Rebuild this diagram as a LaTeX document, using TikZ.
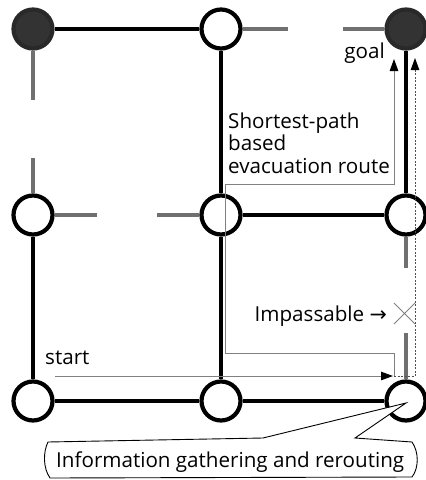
\documentclass[tikz,border=0pt]{standalone}
\usepackage{fontspec}
\setmainfont{Open Sans}
\newfontfamily\symfont{DejaVu Sans}
\usetikzlibrary{arrows.meta}
\definecolor{darkfill}{HTML}{333333}
\definecolor{stubgray}{HTML}{707070}
\definecolor{routegray}{HTML}{808080}
\definecolor{dotgray}{HTML}{505050}
\begin{document}
\begin{tikzpicture}[x=1pt,y=-1pt,
  vert/.style={circle,draw=black,line width=4.2pt,minimum size=39pt,inner sep=0pt,fill=white},
  goalv/.style={vert,fill=darkfill,draw=darkfill!80!black},
  road/.style={line width=4.2pt,black},
  stub/.style={line width=3.8pt,stubgray},
  route/.style={line width=1pt,routegray},
  dotroute/.style={line width=0.9pt,dotgray,dash pattern=on 2pt off 1.5pt},
  tip/.style={-{Triangle[length=12pt,width=8.5pt,color=black]}},
  lbl/.style={font=\fontsize{20.6}{24}\selectfont,inner sep=0pt}]
\useasboundingbox (0,0) rectangle (426,480);

% vertices
\node[goalv] (n11) at (33,29) {};
\node[vert]  (n12) at (221,29) {};
\node[goalv] (n13) at (406,29) {};
\node[vert]  (n21) at (33,215) {};
\node[vert]  (n22) at (221,215) {};
\node[vert]  (n23) at (406,215) {};
\node[vert]  (n31) at (33,401) {};
\node[vert]  (n32) at (221,401) {};
\node[vert]  (n33) at (406,401) {};

% roads
\draw[road] (n11) -- (n12);
\draw[road] (n12) -- (n22);
\draw[road] (n13) -- (n23);
\draw[road] (n22) -- (n23);
\draw[road] (n21) -- (n31);
\draw[road] (n22) -- (n32);
\draw[road] (n31) -- (n32);
\draw[road] (n32) -- (n33);

% stubs
\coordinate (t1) at (33,100);
\coordinate (t2) at (33,158);
\coordinate (t3) at (288,29);
\coordinate (t4) at (343,29);
\coordinate (t5) at (97,215);
\coordinate (t6) at (157,215);
\coordinate (t7) at (406,268);
\coordinate (t8) at (406,333);
\draw[stub] (n11) -- (t1);
\draw[stub] (t2) -- (n21);
\draw[stub] (n12) -- (t3);
\draw[stub] (t4) -- (n13);
\draw[stub] (n21) -- (t5);
\draw[stub] (t6) -- (n22);
\draw[stub] (n23) -- (t7);
\draw[stub] (t8) -- (n33);

% routes
\coordinate (s0) at (55,376);
\coordinate (s1) at (393,376);
\coordinate (r0) at (394,376);
\coordinate (r1) at (394,353);
\coordinate (r2) at (225,353);
\coordinate (r3) at (225,184);
\coordinate (r4) at (394,184);
\coordinate (r5) at (394,59);
\coordinate (d1) at (415,376);
\coordinate (d2) at (415,58);
\draw[route,tip] (r0) -- (r1) -- (r2) -- (r3) -- (r4) -- (r5);
\draw[dotroute,tip] (r0) -- (d1) -- (d2);
\draw[route,tip] (s0) -- (s1);

% impassable mark
\draw[routegray,line width=0.9pt] (394,303) -- (415,324) (394,324) -- (415,303);

% labels
\node[lbl,anchor=base east] (goal) at (385,58) {goal};
\node[lbl,anchor=base west] (sp1) at (228,128) {Shortest-path};
\node[lbl,anchor=base west] (sp2) at (228,150) {based};
\node[lbl,anchor=base west] (sp3) at (228,173) {evacuation route};
\node[lbl,anchor=base east] (imp) at (387,321) {Impassable {\symfont →}};
\node[lbl,anchor=base west] (start) at (45,364) {start};

% callout
\coordinate (ctip) at (406,403);
\draw[line width=0.9pt,fill=white] (48,442) -- (263,438) -- (ctip) -- (355,438) -- (412,442)
  .. controls (419,452) and (419,468) .. (412,477) -- (50,478)
  .. controls (43,468) and (43,452) .. (48,442) -- cycle;
\node[lbl,anchor=base west] (info) at (56,467) {Information gathering and rerouting};
\end{tikzpicture}
\end{document}
